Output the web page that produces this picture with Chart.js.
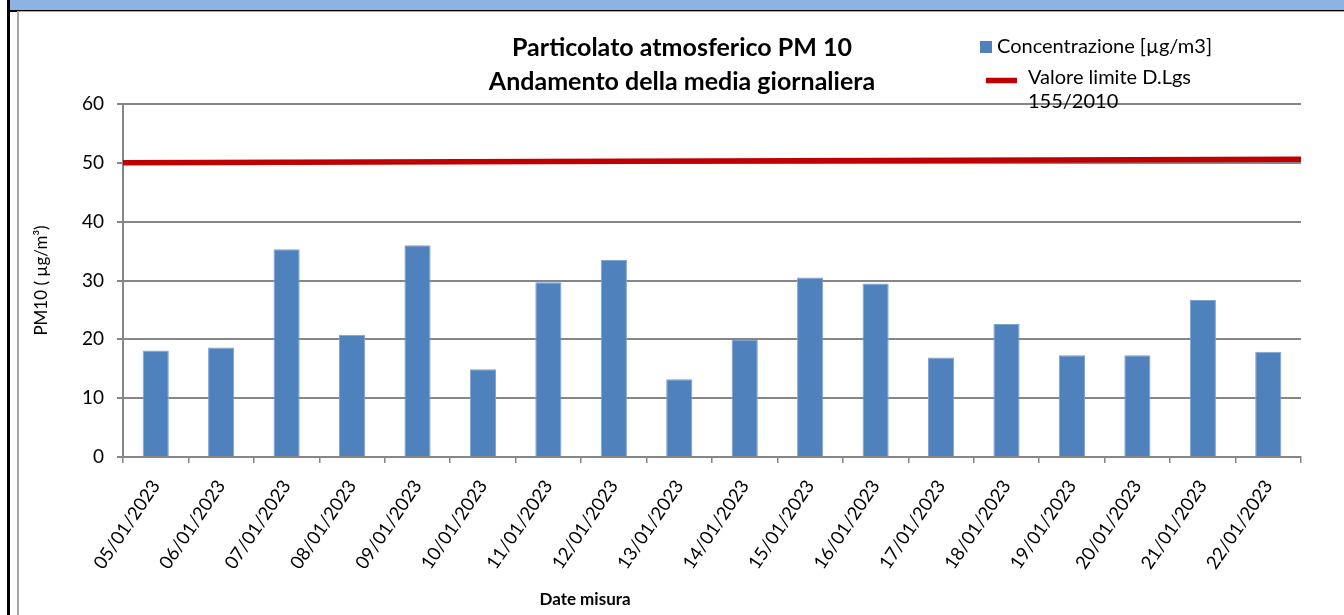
<!DOCTYPE html>
<html>
<head>
<meta charset="utf-8">
<script src="https://cdn.jsdelivr.net/npm/chart.js@4.4.1/dist/chart.umd.min.js"></script>
<style>
  html, body { margin: 0; padding: 0; background: #fff; width: 1344px; height: 615px; overflow: hidden; }
  #banner { position: absolute; left: 10px; top: 0; width: 1334px; height: 10px; background: #8db3e2; }
  #topRule { position: absolute; left: 8px; top: 10px; width: 1336px; height: 2px; background: #000; }
  #leftRule { position: absolute; left: 7px; top: 0; width: 3px; height: 615px; background: #000; }
  #frame { position: absolute; left: 17px; top: 11px; width: 1327px; height: 604px;
           border-left: 2px solid #a6a6a6; border-top: 1px solid #a6a6a6; box-sizing: border-box; }
  #wrap { position: absolute; left: 19px; top: 13px; width: 1325px; height: 602px; }
</style>
</head>
<body>
<div id="banner"></div>
<div id="leftRule"></div>
<div id="topRule"></div>
<div id="frame"></div>
<div id="wrap"><canvas id="pm10Chart" width="1325" height="602"></canvas></div>

<script>
// giorni di misura e media giornaliera PM10 (µg/m3)
const dates = [
    "05/01/2023", "06/01/2023", "07/01/2023", "08/01/2023", "09/01/2023", "10/01/2023",
    "11/01/2023", "12/01/2023", "13/01/2023", "14/01/2023", "15/01/2023", "16/01/2023",
    "17/01/2023", "18/01/2023", "19/01/2023", "20/01/2023", "21/01/2023", "22/01/2023",
];
const concentration = [
    18.1, 18.6, 35.3, 20.8, 36.0, 14.9, 29.7, 33.5, 13.2,
    19.9, 30.5, 29.5, 16.9, 22.6, 17.3, 17.3, 26.7, 17.9,
];
// limite giornaliero, dal bordo sinistro al bordo destro del grafico
const limitValues = [50, 50.6];
const yTicks = [0, 10, 20, 30, 40, 50, 60];

const titleLines = ["Particolato atmosferico PM 10", "Andamento della media giornaliera"];
const xTitle = "Date misura";

const FONT = 'Lato, "Liberation Sans", sans-serif';
Chart.defaults.font.family = FONT;
Chart.defaults.color = "#000";

// titolo, legenda e titolo asse x disegnati a mano
// (la legenda sta sopra l'area del grafico)
const headerPlugin = {
    id: "header",
    afterDraw(chart) {
        const ctx = chart.ctx;
        ctx.save();
        ctx.fillStyle = "#000";
        ctx.textAlign = "center";
        ctx.textBaseline = "middle";
        ctx.font = "bold 25px " + FONT;
        ctx.fillText(titleLines[0], 663, 35);
        ctx.fillText(titleLines[1], 663, 69);

        ctx.font = "bold 17px " + FONT;
        ctx.fillText(xTitle, 566, 587);

        const bar = chart.data.datasets[0];
        const line = chart.data.datasets[1];
        ctx.fillStyle = bar.backgroundColor;
        ctx.fillRect(961, 28, 12, 12);
        ctx.strokeStyle = line.borderColor;
        ctx.lineWidth = 5.5;
        ctx.beginPath();
        ctx.moveTo(967, 67.5);
        ctx.lineTo(998, 67.5);
        ctx.stroke();

        ctx.fillStyle = "#000";
        ctx.textAlign = "left";
        ctx.font = "20px " + FONT;
        ctx.fillText(bar.label, 978, 34);
        ctx.fillText(line.label[0], 1009, 65);
        ctx.fillText(line.label[1], 1009, 89);
        ctx.restore();
    },
};

const ctx = document.getElementById("pm10Chart").getContext("2d");

new Chart(ctx, {
    type: "bar",
    data: {
        labels: dates,
        datasets: [
            {
                label: "Concentrazione [µg/m3]",
                data: concentration,
                backgroundColor: "#4f81bd",
                borderColor: "#7fa2d2",
                borderWidth: 1,
                grouped: false,
                barPercentage: 0.4,
                categoryPercentage: 1.0,
                order: 2,
            },
            {
                type: "line",
                label: ["Valore limite D.Lgs", "155/2010"],
                data: limitValues.map((v, i) => ({ x: i, y: v })),
                xAxisID: "xLimit",
                borderColor: "#c00000",
                borderWidth: 5.5,
                pointRadius: 0,
                order: 1,
            },
        ],
    },
    options: {
        responsive: false,
        animation: false,
        layout: { padding: { top: 91, right: 43, left: 0, bottom: 0 } },
        plugins: {
            legend: { display: false },
            title: { display: false },
            tooltip: { enabled: false },
        },
        scales: {
            x: {
                grid: {
                    offset: true,
                    drawOnChartArea: false,
                    color: "#868686",
                    lineWidth: 1.5,
                    tickLength: 6,
                },
                border: { color: "#868686", width: 2 },
                ticks: {
                    minRotation: 56,
                    maxRotation: 56,
                    autoSkip: false,
                    padding: 13,
                    font: { size: 18.5 },
                },
                afterFit(scale) { scale.height = 158; },
            },
            xLimit: {
                type: "linear",
                display: false,
                offset: false,
                min: 0,
                max: limitValues.length - 1,
            },
            y: {
                min: 0,
                max: 60,
                afterBuildTicks(scale) { scale.ticks = yTicks.map((v) => ({ value: v })); },
                grid: {
                    color: "#868686",
                    lineWidth: 2,
                    tickLength: 6,
                },
                border: { color: "#868686", width: 2 },
                ticks: { padding: 13, font: { size: 19 } },
                title: {
                    display: true,
                    text: "PM10 ( µg/m³)",
                    font: { size: 17 },
                    padding: { top: 12, bottom: 0 },
                },
                afterFit(scale) { scale.width = 104; },
            },
        },
    },
    plugins: [headerPlugin],
});
</script>
</body>
</html>
